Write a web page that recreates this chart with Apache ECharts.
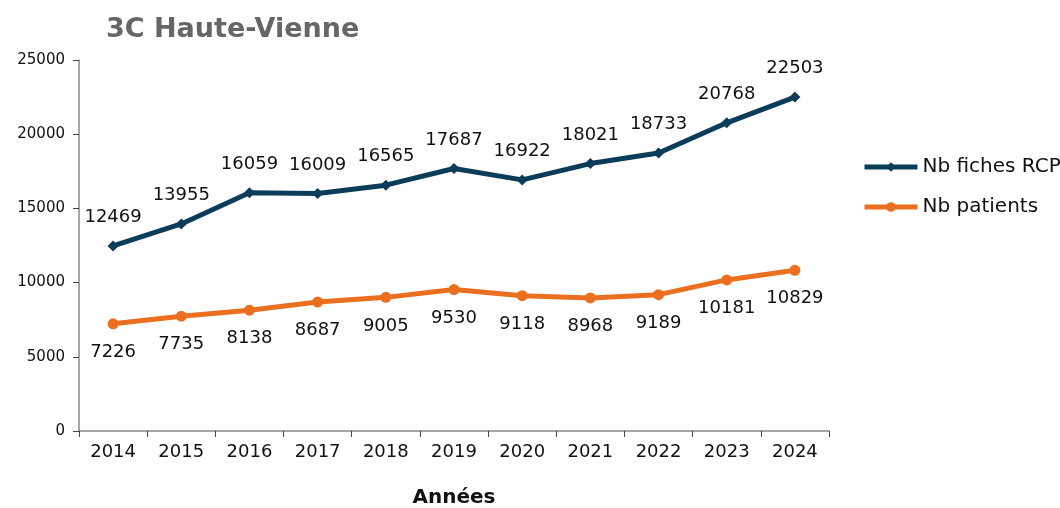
<!DOCTYPE html>
<html>
<head>
<meta charset="utf-8">
<script src="https://cdn.jsdelivr.net/npm/echarts@6/dist/echarts.min.js"></script>
<style>
  html, body { margin: 0; padding: 0; background: #fff; }
  #chart { width: 1060px; height: 508px; }
</style>
</head>
<body>
<div id="chart"></div>
<script>
// données
const annees = ['2014', '2015', '2016', '2017', '2018', '2019', '2020', '2021', '2022', '2023', '2024'];
const fichesRcp = [12469, 13955, 16059, 16009, 16565, 17687, 16922, 18021, 18733, 20768, 22503];
const patients = [7226, 7735, 8138, 8687, 9005, 9530, 9118, 8968, 9189, 10181, 10829];
const yTicks = [0, 5000, 10000, 15000, 20000, 25000];

const chart = echarts.init(document.getElementById('chart'));

const font = 'DejaVu Sans, sans-serif';

chart.setOption({
  animation: false,
  title: {
    text: '3C Haute-Vienne',
    left: 101,
    top: 11,
    textStyle: { fontFamily: font, fontSize: 27, fontWeight: 'bold', color: '#666666' },
  },
  legend: {
    orient: 'vertical',
    left: 862,
    top: 157,
    padding: 0,
    itemWidth: 53,
    itemHeight: 12,
    itemGap: 20,
    lineStyle: { width: 5 },
    textStyle: { fontFamily: font, fontSize: 20, color: '#111' },
    data: ['Nb fiches RCP', 'Nb patients'],
  },
  grid: { left: 79, right: 231, top: 60, bottom: 77, outerBoundsMode: 'none', containLabel: false },
  xAxis: {
    type: 'category',
    data: annees,
    name: 'Années',
    nameLocation: 'middle',
    nameGap: 57,
    nameTextStyle: { fontFamily: font, fontSize: 20, fontWeight: 'bold', color: '#111' },
    axisLine: { lineStyle: { color: '#888', width: 1.5 } },
    axisTick: { show: true, length: 6, lineStyle: { color: '#444' } },
    axisLabel: { fontFamily: font, fontSize: 18, color: '#111', margin: 12 },
  },
  yAxis: {
    type: 'value',
    min: yTicks[0],
    max: yTicks[yTicks.length - 1],
    interval: 5000,
    axisLine: { show: true, lineStyle: { color: '#888', width: 1.5 } },
    axisTick: { show: true, length: 6, lineStyle: { color: '#444' } },
    splitLine: { show: false },
    axisLabel: { fontFamily: font, fontSize: 15, color: '#111', margin: 14, formatter: v => String(v) },
  },
  series: [
    {
      name: 'Nb fiches RCP',
      type: 'line',
      data: fichesRcp,
      symbol: 'diamond',
      symbolSize: 11,
      lineStyle: { width: 5, color: '#0b3d5b' },
      itemStyle: { color: '#0b3d5b' },
      label: {
        show: true,
        position: 'top',
        distance: 14,
        fontFamily: font,
        fontSize: 18,
        color: '#111',
      },
    },
    {
      name: 'Nb patients',
      type: 'line',
      data: patients,
      symbol: 'circle',
      symbolSize: 11,
      lineStyle: { width: 5, color: '#ea7020' },
      itemStyle: { color: '#ea7020' },
      label: {
        show: true,
        position: 'bottom',
        distance: 14,
        fontFamily: font,
        fontSize: 18,
        color: '#111',
      },
    },
  ],
});
</script>
</body>
</html>
